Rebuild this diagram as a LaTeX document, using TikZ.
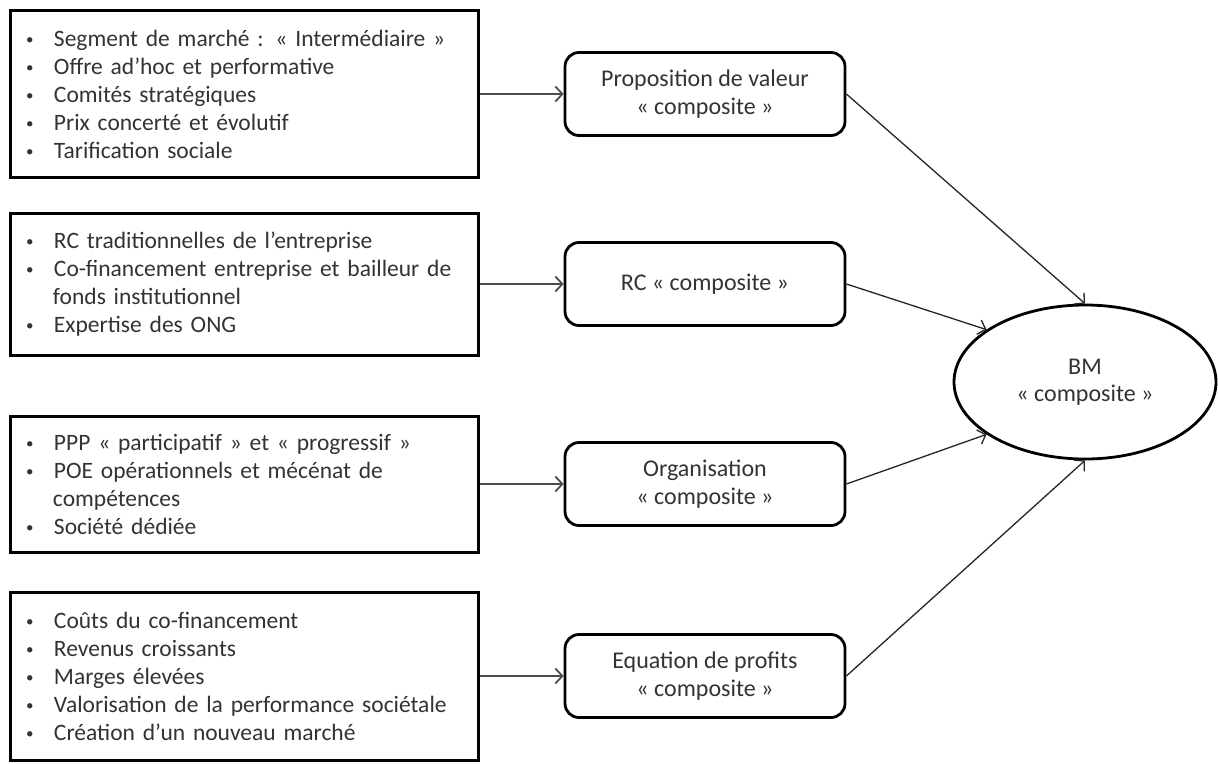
\documentclass[tikz,border=0pt]{standalone}
\usepackage{fontspec}
\setmainfont{Carlito}
\usepackage{xcolor}
\usetikzlibrary{arrows.meta, shapes.geometric}

\newcommand{\itm}{\makebox[32pt][l]{\hspace*{4pt}\raisebox{1.5pt}{\fontsize{15}{15}\selectfont\textbullet}}}
\newcommand{\cont}{\hspace*{31pt}}

\begin{document}
\begin{tikzpicture}[x=1pt, y=-1pt, font=\fontsize{23.5}{28}\selectfont, text=black!80,
    listbox/.style={draw=black, line width=3pt, minimum width=468pt, text width=444pt, align=left, inner sep=0pt},
    blockbox/.style={draw=black, line width=2.8pt, rounded corners=14pt, minimum width=280pt, minimum height=83pt, align=center, font=\fontsize{24}{28}\selectfont},
    feed/.style={draw=black!70, line width=1.8pt, -{Straight Barb[length=7pt, width=15pt, line width=1.8pt]}},
    link/.style={draw=black!85, line width=1.3pt, -{Straight Barb[length=7pt, width=15pt, line width=1.3pt]}}]

    % 1. Fix the frame of the page
    \useasboundingbox[fill=white] (0,0) rectangle (1218,763);

    % 2. The four lists on the left
    \node[listbox, minimum height=167pt] (A1) at (244,94) {%
        \itm Segment de marché : «~Intermédiaire~»\\
        \itm Offre ad’hoc et performative\\
        \itm Comités stratégiques\\
        \itm Prix concerté et évolutif\\
        \itm Tarification sociale};
    \node[listbox, minimum height=142pt] (A2) at (244,284) {%
        \itm RC traditionnelles de l’entreprise\\
        \itm Co-financement entreprise et bailleur de\\
        \cont fonds institutionnel\\
        \itm Expertise des ONG};
    \node[listbox, minimum height=136pt] (A3) at (244,484) {%
        \itm PPP «~participatif~» et «~progressif~»\\
        \itm POE opérationnels et mécénat de\\
        \cont compétences\\
        \itm Société dédiée};
    \node[listbox, minimum height=168pt] (A4) at (244,676) {%
        \itm Coûts du co-financement\\
        \itm Revenus croissants\\
        \itm Marges élevées\\
        \itm Valorisation de la performance sociétale\\
        \itm Création d’un nouveau marché};

    % 3. The four building blocks in the middle
    \node[blockbox] (B1) at (705,94) {Proposition de valeur\\«~composite~»};
    \node[blockbox] (B2) at (705,284) {RC «~composite~»};
    \node[blockbox] (B3) at (705,484) {Organisation\\«~composite~»};
    \node[blockbox] (B4) at (705,676) {Equation de profits\\«~composite~»};

    % 4. The business model itself
    \node[draw=black, line width=2.8pt, ellipse, minimum width=262pt, minimum height=154pt, inner sep=0pt, align=center, font=\fontsize{24}{27}\selectfont] (BM) at (1085,382) {BM\\«~composite~»};

    % 5. Lists feed the blocks
    \draw[feed] (A1) -- (B1);
    \draw[feed] (A2) -- (B2);
    \draw[feed] (A3) -- (B3);
    \draw[feed] (A4) -- (B4);

    % 6. Blocks feed the BM
    \draw[link] (B1.east) -- (BM.north);
    \draw[link] (B2.east) -- (BM.152);
    \draw[link] (B3.east) -- (BM.208);
    \draw[link] (B4.east) -- (BM.south);

\end{tikzpicture}
\end{document}
